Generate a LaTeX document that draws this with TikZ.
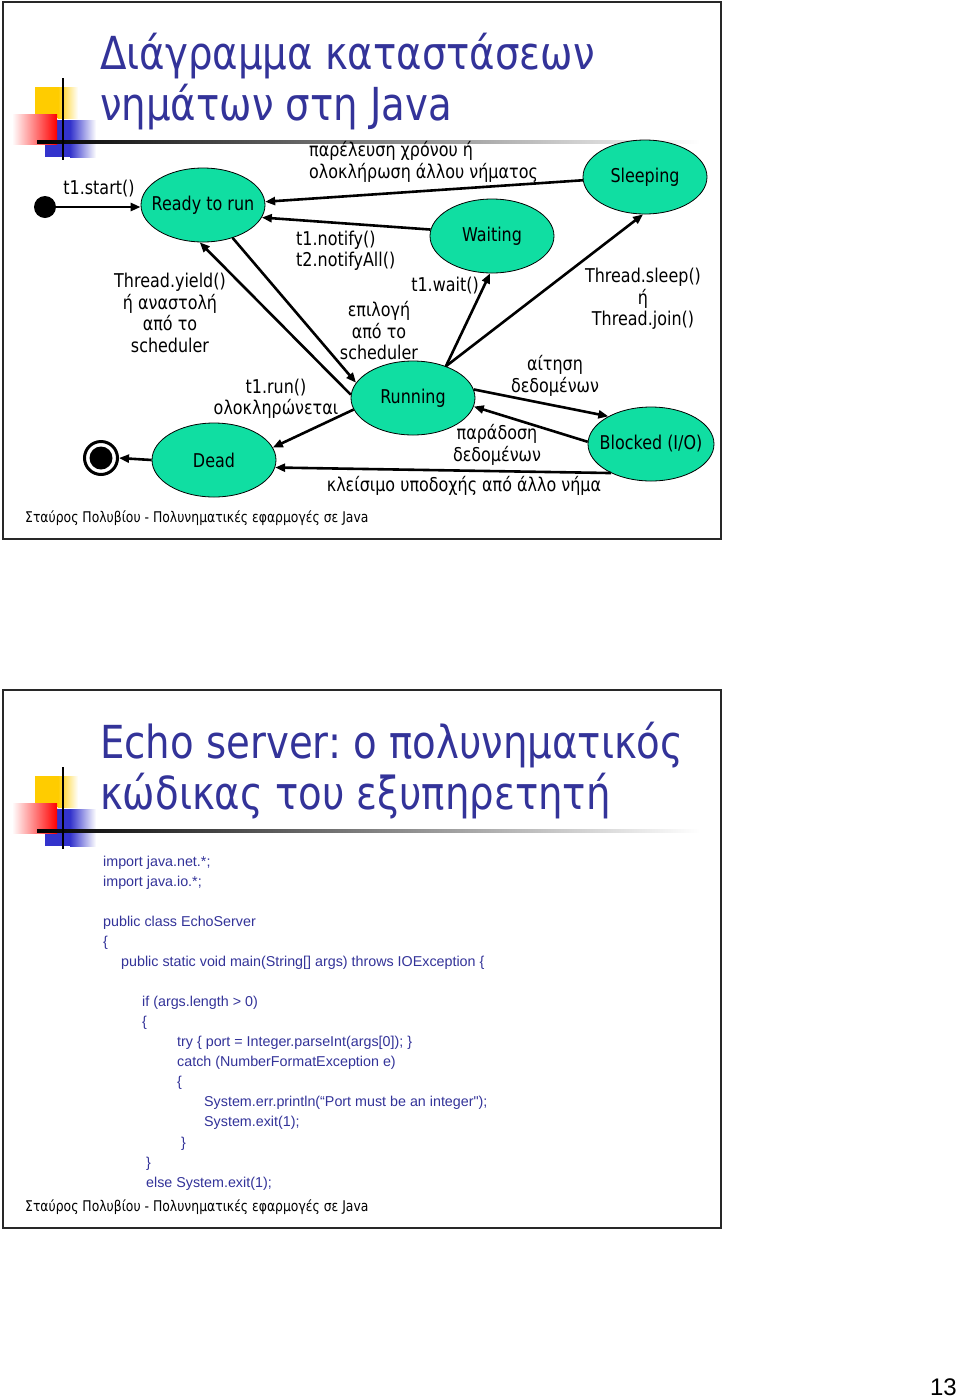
\documentclass[tikz,border=0pt]{standalone}
\usepackage{fontspec}
\setmainfont{DejaVu Sans}[FakeStretch=0.84]
\newfontfamily\ttlfam{DejaVu Sans}[FakeStretch=0.85]
\newfontfamily\codefam{Liberation Sans}
\usetikzlibrary{shapes.geometric,arrows.meta}
\frenchspacing
\definecolor{titleblue}{RGB}{51,51,153}
\definecolor{nodegreen}{RGB}{16,222,162}
\definecolor{logoyellow}{RGB}{255,204,0}
\definecolor{logored}{RGB}{255,0,0}
\definecolor{logoblue}{RGB}{51,51,204}
\definecolor{framegray}{RGB}{40,40,40}
\newcommand\lblfont{\fontsize{19}{21.5}\selectfont}
\newcommand\ttlfont{\ttlfam\fontsize{45.5}{50}\selectfont}
\newcommand\ftrfont{\fontsize{14.75}{17}\selectfont}
\newcommand\cdfont{\codefam\fontsize{14.3}{20}\selectfont}
\newcommand\st[1]{\makebox[0pt]{#1}}
\tikzset{
  state/.style={ellipse, draw=black, line width=0.8pt, fill=nodegreen,
    minimum width=124pt, minimum height=74pt, inner sep=0pt, font=\lblfont},
  conn/.style={line width=2.6pt, -{Triangle[length=10pt,width=8pt]}},
  lbl/.style={font=\lblfont, inner sep=0pt, align=center},
  ttl/.style={font=\ttlfont, text=titleblue, inner sep=0pt, anchor=base west},
  ftr/.style={font=\ftrfont, inner sep=0pt, anchor=base west},
  code/.style={font=\cdfont, text=titleblue, inner sep=0pt, anchor=base west},
  frame/.style={draw=framegray, line width=2pt},
}
\newcommand\logo[1]{%
  \begin{scope}[yshift=#1]
    \fill[logoyellow] (35,87) rectangle (58,118);
    \shade[left color=logoyellow, right color=white] (58,87) rectangle (78,118);
    \fill[logoblue] (45,120) rectangle (70,157);
    \shade[left color=logoblue, right color=white] (70,120) rectangle (96,157);
    \shade[left color=white, right color=logored] (12,114) rectangle (57,144);
    \shade[left color=black, right color=white] (37,140.5) rectangle (700,143.5);
    \draw[line width=2pt] (63,78) -- (63,160);
  \end{scope}}
\begin{document}
\begin{tikzpicture}[x=1pt,y=-1pt]
\useasboundingbox (0,0) rectangle (960,1398);
\fill[white] (0,0) rectangle (960,1398);
% ---------------- slide 1 ----------------
\draw[frame] (3,2) rectangle (721,539);
\logo{0pt}
\node[ttl] (t1a) at (100,69) {Διάγραμμα καταστάσεων};
\node[ttl] (t1b) at (100,120) {νημάτων στη Java};

\node[state] (ready) at (203,205) {\st{Ready to run}};
\node[state] (waiting) at (492,236) {\st{Waiting}};
\node[state] (sleeping) at (645,177) {\st{Sleeping}};
\node[state] (running) at (413,398) {\st{Running}};
\node[state, minimum width=126pt] (blocked) at (651,444) {\st{Blocked (I/O)}};
\node[state] (dead) at (214,460) {\st{Dead}};
\node[circle, fill=black, minimum size=22pt, inner sep=0pt] (start) at (45,207) {};
\node[circle, draw=black, line width=3pt, fill=white, minimum size=33pt, inner sep=0pt] (finish) at (101,458) {};
\node[circle, fill=black, minimum size=23pt, inner sep=0pt] (finishdot) at (finish) {};

\draw[conn] (start.east) -- (start.east -| ready.west);
\draw[conn] (sleeping.183) -- (ready.3);
\draw[conn] (waiting.174) -- (ready.-12);
\draw[conn] (running.177) -- (ready.265);
\draw[conn] (ready.-48) -- (running.165);
\draw[conn] (running.44) -- (waiting.267);
\draw[conn] (running.44) -- (sleeping.267);
\draw[conn] (running.8) -- (blocked.147);
\draw[conn] (blocked.178) -- (running.-8);
\draw[conn] (blocked.216) -- (dead.-7);
\draw[conn] (running.191) -- (dead.12);
\draw[conn] (dead.west) -- (finish.east);

\node[lbl] (lstart) at (99,189) {t1.start()};
\node[lbl, anchor=west, align=left] (lsleep) at (309,162) {παρέλευση χρόνου ή\\ολοκλήρωση άλλου νήματος};
\node[lbl, anchor=west, align=left] (lnotify) at (296,251) {t1.notify()\\t2.notifyAll()};
\node[lbl] (lwait) at (445,286) {t1.wait()};
\node[lbl] (lyield) at (170,313) {Thread.yield()\\ή αναστολή\\από το\\scheduler};
\node[lbl] (lselect) at (379,331) {επιλογή\\από το\\scheduler};
\node[lbl] (lsleepjoin) at (643,299) {Thread.sleep()\\ή\\Thread.join()};
\node[lbl] (lreq) at (555,376) {αίτηση\\δεδομένων};
\node[lbl] (lrun) at (276,399) {t1.run()\\ολοκληρώνεται};
\node[lbl] (ldeliver) at (497,445) {παράδοση\\δεδομένων};
\node[lbl] (lclose) at (464,486) {κλείσιμο υποδοχής από άλλο νήμα};

\node[ftr] (f1) at (25,522) {Σταύρος Πολυβίου - Πολυνηματικές εφαρμογές σε Java};

% ---------------- slide 2 ----------------
\draw[frame] (3,690) rectangle (721,1228);
\logo{-689pt}
\node[ttl] (t2a) at (100,758) {Echo server: ο πολυνηματικός};
\node[ttl] (t2b) at (100,809) {κώδικας του εξυπηρετητή};

\node[code] (c1) at (103,866) {import java.net.*;};
\node[code] (c2) at (103,886) {import java.io.*;};
\node[code] (c3) at (103,926) {public class EchoServer};
\node[code] (c4) at (103,946) {\{};
\node[code] (c5) at (121,966) {public static void main(String[] args) throws IOException \{};
\node[code] (c6) at (142,1006) {if (args.length > 0)};
\node[code] (c7) at (142,1026) {\{};
\node[code] (c8) at (177,1046) {try \{ port = Integer.parseInt(args[0]); \}};
\node[code] (c9) at (177,1066) {catch (NumberFormatException e)};
\node[code] (c10) at (177,1086) {\{};
\node[code] (c11) at (204,1106) {System.err.println(“Port must be an integer");};
\node[code] (c12) at (204,1126) {System.exit(1);};
\node[code] (c13) at (181,1147) {\}};
\node[code] (c14) at (146,1167) {\}};
\node[code] (c15) at (146,1187) {else System.exit(1);};

\node[ftr] (f2) at (25,1211) {Σταύρος Πολυβίου - Πολυνηματικές εφαρμογές σε Java};

\node[font=\codefam\fontsize{24}{24}\selectfont, inner sep=0pt, anchor=base east] (pnum) at (957,1395) {13};
\end{tikzpicture}
\end{document}
